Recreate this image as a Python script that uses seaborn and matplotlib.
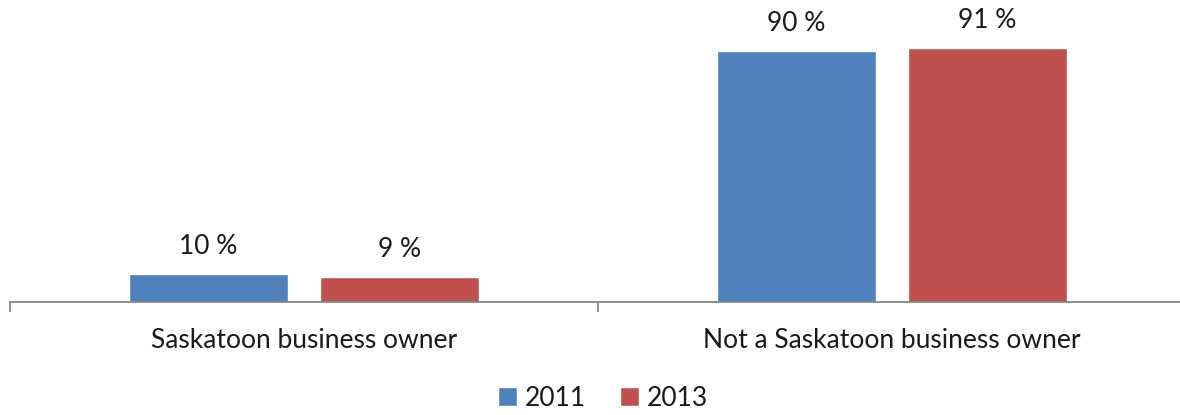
import matplotlib
matplotlib.use("Agg")
import matplotlib.pyplot as plt
import seaborn as sns
import pandas as pd
from matplotlib.patches import Patch

categories = ["Saskatoon business owner", "Not a Saskatoon business owner"]
years = ["2011", "2013"]
values_2011 = [10, 90]
values_2013 = [9, 91]
colors = ["#4F81BD", "#C0504D"]

df = pd.DataFrame({
    "category": categories * 2,
    "year": [years[0]] * 2 + [years[1]] * 2,
    "value": values_2011 + values_2013,
})

sns.set_theme(style="white")
plt.rcParams["font.family"] = ["Lato", "DejaVu Sans"]

FS = 19
fig = plt.figure(figsize=(11.8, 4.15), dpi=100)
W, H = 1180, 415
ax = fig.add_axes([10 / W, 113 / H, 1176 / W, 279 / H])

sns.barplot(data=df, x="category", y="value", hue="year", order=categories,
            hue_order=years, palette=colors, width=0.65, gap=0.169,
            saturation=1, ax=ax, legend=False, errorbar=None)

for container in ax.containers:
    ax.bar_label(container, labels=[f"{v:.0f} %" for v in container.datavalues],
                 padding=11, fontsize=FS, color="#1a1a1a")

ax.set_ylim(0, 100)
ax.set_xlim(-0.5, 1.5)
ax.set_xlabel("")
ax.set_ylabel("")
ax.set_yticks([])
for s in ["top", "right", "left"]:
    ax.spines[s].set_visible(False)
ax.spines["bottom"].set_color("#868686")
ax.spines["bottom"].set_linewidth(1.3)

ax.set_xticks([-0.5, 0.5, 1.5])
ax.set_xticklabels(["", "", ""])
ax.tick_params(axis="x", which="major", length=7.5, width=1.3, color="#868686", bottom=True)
ax.set_xticks([0, 1], minor=True)
ax.set_xticklabels(categories, minor=True, fontsize=FS, color="#1a1a1a")
ax.tick_params(axis="x", which="minor", length=0, pad=19)

handles = [Patch(facecolor=c, label=y) for c, y in zip(colors, years)]
fig.legend(handles=handles, loc="center", bbox_to_anchor=(603 / W, 1 - 398 / H),
           ncol=2, frameon=False, fontsize=FS, handlelength=0.7, handleheight=0.7,
           handletextpad=0.3, columnspacing=1.3, labelcolor="#1a1a1a")

fig.savefig("out.png", dpi=100)
